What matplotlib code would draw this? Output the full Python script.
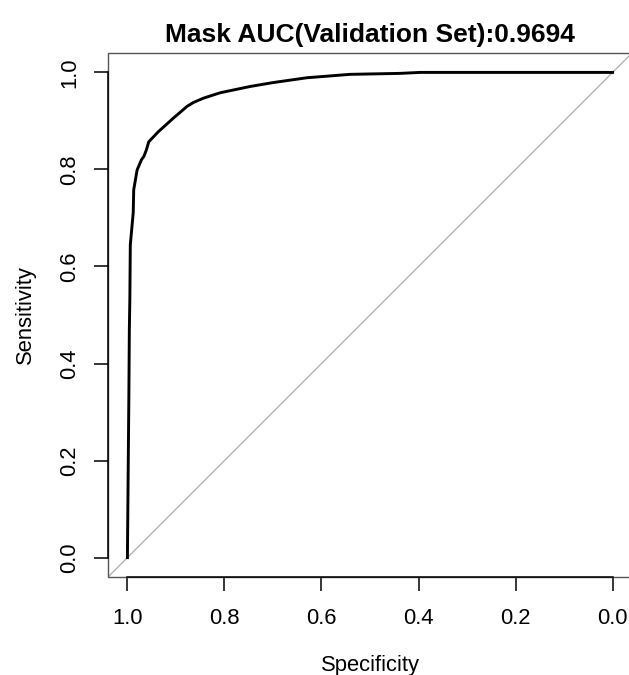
import matplotlib
matplotlib.use('Agg')
import matplotlib.pyplot as plt
from matplotlib.patches import Rectangle

plt.rcParams['font.family'] = ['Liberation Sans', 'DejaVu Sans']

# ROC curve (specificity, sensitivity)
specificity = [1.000, 0.998, 0.997, 0.996, 0.995, 0.994, 0.988, 0.987, 0.980,
               0.971, 0.966, 0.961, 0.956, 0.936, 0.905, 0.877, 0.864, 0.843,
               0.809, 0.747, 0.700, 0.630, 0.541, 0.438, 0.397, 0.000]
sensitivity = [0.000, 0.223, 0.332, 0.470, 0.531, 0.645, 0.711, 0.758, 0.799,
               0.820, 0.827, 0.840, 0.857, 0.878, 0.906, 0.930, 0.938, 0.947,
               0.958, 0.971, 0.979, 0.989, 0.996, 0.998, 1.000, 1.000]
ticks = [1.0, 0.8, 0.6, 0.4, 0.2, 0.0]
auc = 0.9694

W, H = 629, 675
fig = plt.figure(figsize=(W / 100, H / 100), dpi=100)
ax = fig.add_axes([108 / W, (H - 577) / H, 524 / W, 524 / H])

# identity line and the curve
ax.axline((1, 0), (0, 1), color='#b4b4b4', lw=1.0, zorder=1)
ax.plot(specificity, sensitivity, color='black', lw=2.1, zorder=3,
        solid_joinstyle='round')

ax.set_xlim(1.04, -0.04)
ax.set_ylim(-0.04, 1.04)

# gray frame, black axis lines only between first and last tick
for s in ax.spines.values():
    s.set_visible(False)
ax.add_patch(Rectangle((0, 0), 1, 1, transform=ax.transAxes, fill=False,
                       edgecolor='#555555', lw=1.0, clip_on=False, zorder=2))
for side in ['bottom', 'left']:
    ax.spines[side].set_visible(True)
    ax.spines[side].set_bounds(0, 1)
    ax.spines[side].set_color('black')
    ax.spines[side].set_linewidth(1.1)
    ax.spines[side].set_zorder(4)

ax.set_xticks(ticks)
ax.set_yticks(ticks)
ax.set_xticklabels(['%.1f' % t for t in ticks])
ax.set_yticklabels(['%.1f' % t for t in ticks])
ax.tick_params(length=10, width=1.1, labelsize=15.8, color='black')
ax.tick_params(axis='x', pad=12)
ax.tick_params(axis='y', pad=10)
for lbl in ax.get_yticklabels():
    lbl.set_rotation(90)
    lbl.set_va('center')

fig.text(370 / W, 1 - 665 / H, 'Specificity', ha='center', va='center',
         fontsize=15.8)
fig.text(25 / W, 1 - 315 / H, 'Sensitivity', ha='center', va='center',
         rotation=90, fontsize=15.8)
fig.text(370 / W, 1 - 35 / H, 'Mask AUC(Validation Set):%.4f' % auc,
         ha='center', va='center', fontsize=19, fontweight='bold')

fig.savefig('out.png', dpi=100)
